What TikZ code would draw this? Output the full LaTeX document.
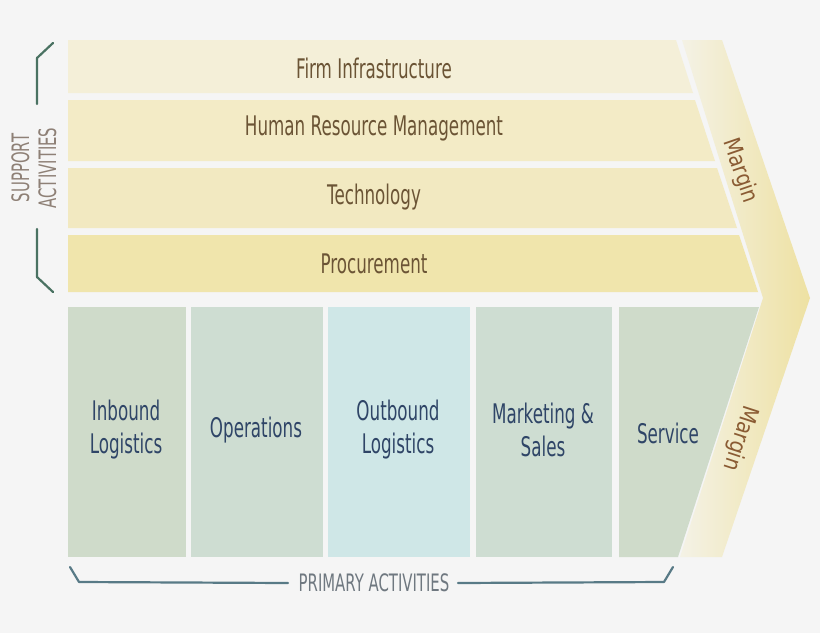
\documentclass[tikz,border=0pt]{standalone}
\usepackage{fontspec}
\setmainfont{DejaVu Sans}
\newfontfamily\cf[FakeStretch=0.62]{DejaVu Sans}
\newfontfamily\mf[FakeStretch=0.85]{DejaVu Sans}
\definecolor{bg}{HTML}{F5F5F5}
\definecolor{s1}{HTML}{F4EFD8}
\definecolor{s2}{HTML}{F3EBC6}
\definecolor{s3}{HTML}{F2E9C1}
\definecolor{s4}{HTML}{F0E5AC}
\definecolor{p1}{HTML}{CFDBCA}
\definecolor{p2}{HTML}{CEDDD2}
\definecolor{p3}{HTML}{CFE7E7}
\definecolor{stxt}{HTML}{6B5435}
\definecolor{ptxt}{HTML}{2F4567}
\definecolor{mtxt}{HTML}{8A5B33}
\definecolor{mlight}{HTML}{F4F2E6}
\definecolor{mdark}{HTML}{EEE1A2}
\definecolor{brg}{HTML}{4A7262}
\definecolor{brb}{HTML}{587A86}
\definecolor{sat}{HTML}{8E8076}
\definecolor{pat}{HTML}{6F7880}
\begin{document}
\begin{tikzpicture}[x=1pt,y=-1pt,
  stxtstyle/.style={font=\cf\fontsize{27}{30}\selectfont, text=stxt, inner sep=0pt},
  ptxtstyle/.style={font=\cf\fontsize{27}{33}\selectfont, text=ptxt, inner sep=0pt, align=center},
  mtxtstyle/.style={font=\mf\fontsize{23}{26}\selectfont, text=mtxt, inner sep=0pt},
  lbl/.style={font=\cf\fontsize{24}{27}\selectfont, inner sep=0pt, align=center},
  brk/.style={line width=2.2pt, line cap=round, line join=round}]
\fill[bg] (0,0) rectangle (820,633);
\useasboundingbox (0,0) rectangle (820,633);
% margin chevron
\shade[left color=mlight, right color=mdark] (682,40) -- (722,40) -- (810,298) -- (722,557) -- (680,557) -- (763,298) -- cycle;
% support bars
\fill[s1] (68,40) -- (676,40) -- (693,93) -- (68,93) -- cycle;
\fill[s2] (68,100) -- (695,100) -- (715,161) -- (68,161) -- cycle;
\fill[s3] (68,168) -- (717,168) -- (737,228) -- (68,228) -- cycle;
\fill[s4] (68,235) -- (739,235) -- (758,292) -- (68,292) -- cycle;
\node[stxtstyle] (fi) at (374,68) {Firm Infrastructure};
\node[stxtstyle] (hr) at (374,128) {Human Resource Management};
\node[stxtstyle] (te) at (374,197) {Technology};
\node[stxtstyle] (pr) at (374,264) {Procurement};
% primary boxes
\fill[p1] (68,307) rectangle (186,557);
\fill[p2] (191,307) rectangle (323,557);
\fill[p3] (328,307) rectangle (470,557);
\fill[p2] (476,307) rectangle (612,557);
\fill[p1] (619,307) -- (759,307) -- (678,557) -- (619,557) -- cycle;
\node[ptxtstyle] (ib) at (126,430) {Inbound\\Logistics};
\node[ptxtstyle] (op) at (256,430) {Operations};
\node[ptxtstyle] (ob) at (398,430) {Outbound\\Logistics};
\node[ptxtstyle] (ms) at (543,430) {Marketing \&\\Sales};
\node[ptxtstyle] (sv) at (668,433) {Service};
% margin labels
\node[mtxtstyle, rotate=-71] (m1) at (740,171) {Margin};
\node[mtxtstyle, rotate=-108] (m2) at (740,438) {Margin};
% support bracket
\coordinate (t1) at (53,43);
\coordinate (t2) at (37,58);
\coordinate (t3) at (37,104);
\coordinate (b1) at (37,229);
\coordinate (b2) at (37,277);
\coordinate (b3) at (53,292);
\draw[brk, brg] (t1) -- (t2) -- (t3);
\draw[brk, brg] (b1) -- (b2) -- (b3);
\node[lbl, text=sat, rotate=90] (sa) at (34,168) {SUPPORT\\ACTIVITIES};
% primary bracket
\node[lbl, text=pat] (pa) at (374,583) {PRIMARY ACTIVITIES};
\coordinate (l1) at (70,567);
\coordinate (l2) at (79,582);
\coordinate (r1) at (664,582);
\coordinate (r2) at (673,567);
\draw[brk, brb] (l1) -- (l2) -- (pa.west -| 288,582);
\draw[brk, brb] (pa.east -| 458,582) -- (r1) -- (r2);
\end{tikzpicture}
\end{document}
